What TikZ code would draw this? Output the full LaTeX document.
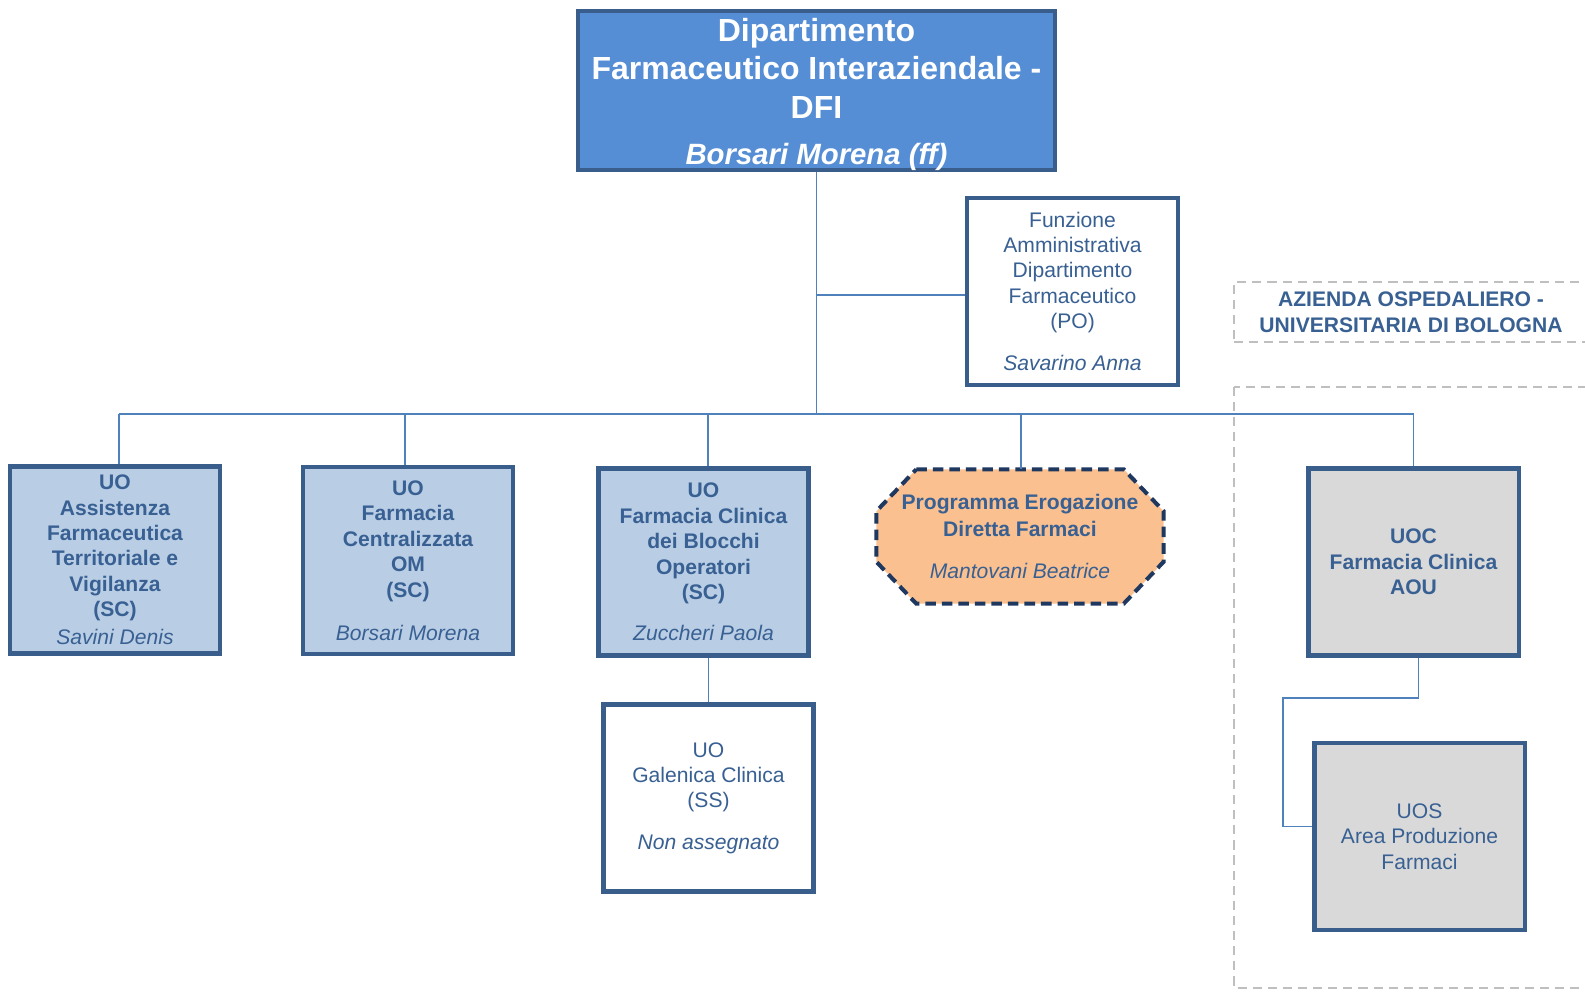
\documentclass[tikz,border=0pt]{standalone}
\usepackage{fontspec}
\setmainfont{Liberation Sans}
\usepackage{tikz}
\usetikzlibrary{backgrounds}

\definecolor{uoborder}{RGB}{58,94,140}
\definecolor{uotext}{RGB}{56,96,146}
\definecolor{dfiblue}{RGB}{85,142,213}
\definecolor{uolight}{RGB}{185,205,229}
\definecolor{uogrey}{RGB}{217,217,217}
\definecolor{progorange}{RGB}{250,192,144}
\definecolor{prognavy}{RGB}{31,56,96}
\definecolor{linkblue}{RGB}{79,129,189}
\definecolor{aougrey}{RGB}{191,191,191}

\tikzset{
  unitbox/.style={draw=uoborder, line width=1.15pt, fill=white, text=uotext,
    minimum width=2.1cm, minimum height=1.87cm, inner sep=0pt, align=center,
    font=\fontsize{6}{7.23}\selectfont},
  scbox/.style={unitbox, fill=uolight, font=\fontsize{6}{7.23}\selectfont\bfseries},
  aoubox/.style={unitbox, fill=uogrey},
  link/.style={draw=linkblue, line width=0.5pt},
  aouframe/.style={draw=aougrey, line width=0.6pt, dash pattern=on 2.6pt off 1.7pt},
  progline/.style={draw=prognavy, line width=1.15pt, dash pattern=on 3pt off 1.7pt,
    fill=progorange}
}

\begin{document}
\begin{tikzpicture}
    \useasboundingbox (0,0) rectangle (15.85,-9.94);

    % frames of the AOU
    \node[aouframe, minimum width=3.54cm, minimum height=0.6cm, inner sep=0pt,
      text=uotext, align=center, font=\fontsize{6}{7.4}\selectfont\bfseries]
      (aou) at (14.11,-3.12) {AZIENDA OSPEDALIERO -\\UNIVERSITARIA DI BOLOGNA};
    \draw[aouframe] (12.34,-3.87) rectangle (15.88,-9.88);

    % department
    \node[draw=uoborder, line width=1.2pt, fill=dfiblue,
      minimum width=4.77cm, minimum height=1.59cm, inner sep=0pt]
      (dfi) at (8.165,-0.905) {};
    \node[text=white, inner sep=0pt, align=center,
      font=\fontsize{9.1}{10.95}\selectfont\bfseries]
      (dfilabel) at (8.165,-0.945)
      {Dipartimento\\Farmaceutico Interaziendale -\\DFI\\[2.4pt]
       \fontsize{8.35}{10.95}\selectfont\itshape Borsari Morena (ff)};

    \node[unitbox, minimum width=2.11cm] (funz) at (10.725,-2.915)
      {Funzione\\Amministrativa\\Dipartimento\\Farmaceutico\\(PO)\\[4.8pt]\itshape Savarino Anna};

    % units
    \node[scbox] (aft) at (1.15,-5.60)
      {UO\\Assistenza\\Farmaceutica\\Territoriale e\\Vigilanza\\(SC)\\[0.8pt]\mdseries\itshape Savini Denis};
    \node[scbox] (fcom) at (4.08,-5.605)
      {UO\\Farmacia\\Centralizzata\\OM\\(SC)\\[5pt]\mdseries\itshape Borsari Morena};
    \node[scbox] (fcbo) at (7.035,-5.62)
      {UO\\Farmacia Clinica\\dei Blocchi\\Operatori\\(SC)\\[4.5pt]\mdseries\itshape Zuccheri Paola};
    \node[minimum width=2.86cm, minimum height=1.33cm, inner sep=0pt, align=center,
      text=uotext, font=\fontsize{6}{7.6}\selectfont\bfseries]
      (pedf) at (10.20,-5.365)
      {Programma Erogazione\\Diretta Farmaci\\[4.5pt]\mdseries\itshape Mantovani Beatrice};
    \begin{scope}[on background layer]
      \draw[progline] ([xshift=0.4cm]pedf.north west) -- ([xshift=-0.4cm]pedf.north east)
        -- ([yshift=-0.42cm]pedf.north east) -- ([yshift=0.42cm]pedf.south east)
        -- ([xshift=-0.4cm]pedf.south east) -- ([xshift=0.4cm]pedf.south west)
        -- ([yshift=0.42cm]pedf.south west) -- ([yshift=-0.42cm]pedf.north west) -- cycle;
    \end{scope}
    \node[aoubox, font=\fontsize{6}{7.23}\selectfont\bfseries] (uoc) at (14.135,-5.62)
      {UOC\\Farmacia Clinica\\AOU};
    \node[unitbox] (gal) at (7.085,-7.98)
      {UO\\Galenica Clinica\\(SS)\\[4.5pt]\itshape Non assegnato};
    \node[aoubox] (uos) at (14.195,-8.365)
      {UOS\\Area Produzione\\Farmaci};

    % connectors
    \coordinate (bus) at (8.165,-4.14);
    \coordinate (fjoin) at (8.165,-2.95);
    \coordinate (uosbend) at (12.83,-6.98);

    \draw[link] (dfi.south) -- (bus);
    \draw[link] (fjoin) -- (fjoin -| funz.west);
    \draw[link] ([xshift=0.04cm]aft.north |- bus) -- (uoc.north |- bus);
    \foreach \u/\dx in {aft/0.04,fcom/-0.03,fcbo/0.045,pedf/0.01,uoc/0}
      \draw[link] ([xshift=\dx cm]\u.north |- bus) -- ([xshift=\dx cm]\u.north);
    \draw[link] (gal.north |- fcbo.south) -- (gal.north);
    \draw[link] ([xshift=0.05cm]uoc.south) |- (uosbend) |- ([yshift=0.1cm]uos.west);
\end{tikzpicture}
\end{document}
